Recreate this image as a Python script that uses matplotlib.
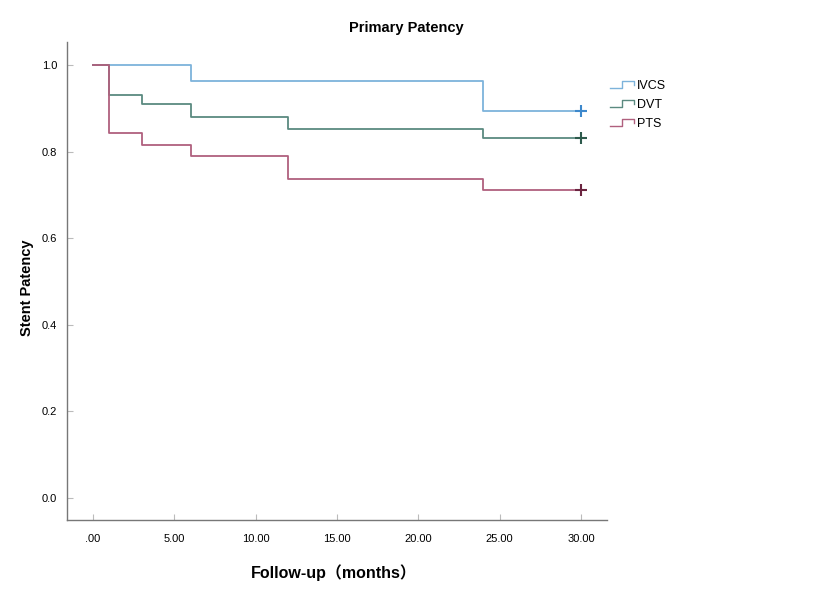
import matplotlib
matplotlib.use("Agg")
import matplotlib.pyplot as plt
from matplotlib.lines import Line2D
from matplotlib.legend_handler import HandlerBase

plt.rcParams['font.family'] = ['Liberation Sans', 'Noto Sans CJK SC', 'DejaVu Sans']

groups = ["IVCS", "DVT", "PTS"]
ivcs_t = [0, 6, 24, 30]
ivcs_s = [1.0, 0.964, 0.893, 0.893]
dvt_t = [0, 1, 3, 6, 12, 24, 30]
dvt_s = [1.0, 0.931, 0.910, 0.880, 0.852, 0.832, 0.832]
pts_t = [0, 1, 3, 6, 12, 24, 30]
pts_s = [1.0, 0.842, 0.816, 0.789, 0.737, 0.711, 0.711]
x_ticks = [0, 5, 10, 15, 20, 25, 30]
x_labels = [".00", "5.00", "10.00", "15.00", "20.00", "25.00", "30.00"]
y_ticks = [0.0, 0.2, 0.4, 0.6, 0.8, 1.0]
y_labels = ["0.0", "0.2", "0.4", "0.6", "0.8", "1.0"]

colors = {"IVCS": "#7db3db", "DVT": "#5b8a80", "PTS": "#b0607e"}
censor_colors = {"IVCS": "#3d88cc", "DVT": "#2d5a4c", "PTS": "#6b2440"}
data = {"IVCS": (ivcs_t, ivcs_s), "DVT": (dvt_t, dvt_s), "PTS": (pts_t, pts_s)}

fig = plt.figure(figsize=(8.13, 6.0), dpi=100)
ax = fig.add_axes([0.0824, 0.1333, 0.6642, 0.7967])

for g in groups:
    t, s = data[g]
    ax.step(t, s, where='post', color=colors[g], lw=1.3, label=g)
    ax.plot(t[-1], s[-1], marker='+', color=censor_colors[g], ms=8, mew=1.5, ls='none')

ax.set_xlim(-1.6, 31.6)
ax.set_ylim(-0.051, 1.053)
ax.set_xticks(x_ticks)
ax.set_xticklabels(x_labels, fontsize=8)
ax.set_yticks(y_ticks)
ax.set_yticklabels(y_labels, fontsize=8)
ax.tick_params(direction='in', length=4, color='#bbbbbb', pad=10)
ax.tick_params(axis='y', pad=7)
for sp in ['top', 'right']:
    ax.spines[sp].set_visible(False)
for sp in ['left', 'bottom']:
    ax.spines[sp].set_color('#777777')
    ax.spines[sp].set_linewidth(1.0)


class StepHandler(HandlerBase):
    def create_artists(self, legend, orig_handle, xdescent, ydescent, width, height, fontsize, trans):
        c = orig_handle.get_color()
        x0 = -xdescent
        xs = [x0, x0 + width * 0.5, x0 + width * 0.5, x0 + width, x0 + width]
        y0 = -ydescent + height * 0.1
        y1 = -ydescent + height * 0.9
        ym = -ydescent + height * 0.5
        ys = [y0, y0, y1, y1, ym]
        ln = Line2D(xs, ys, color=c, lw=1.0)
        ln.set_transform(trans)
        return [ln]


handles = [Line2D([], [], color=colors[g]) for g in groups]
leg = fig.legend(handles, groups, loc='upper left', bbox_to_anchor=(0.737, 0.885),
                 frameon=False, fontsize=9, handlelength=1.9, handletextpad=0.2,
                 labelspacing=0.55, handler_map={Line2D: StepHandler()})

fig.text(0.4995, 0.953, "Primary Patency", ha='center', va='center', fontsize=10.5, fontweight='bold')
fig.text(0.41, 0.045, "Follow-up（months）", ha='center', va='center', fontsize=11.5,
         fontweight='bold')
fig.text(0.033, 0.52, "Stent Patency", ha='center', va='center', rotation=90, fontsize=10.5,
         fontweight='bold')

fig.savefig("out.png", dpi=100, facecolor='white')
